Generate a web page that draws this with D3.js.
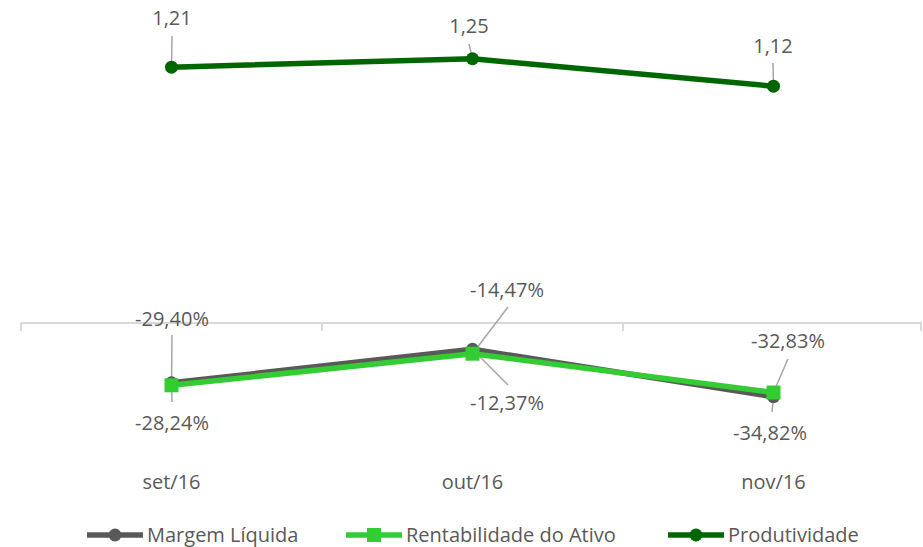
<!DOCTYPE html>
<html>
<head>
<meta charset="utf-8">
<script src="https://cdn.jsdelivr.net/npm/d3@7"></script>
<style>
  body { margin: 0; background: #fff; }
  text { font-family: 'Segoe UI', 'Open Sans', sans-serif; fill: #595959; }
</style>
</head>
<body>
<svg id="chart" width="923" height="547"></svg>
<script>
const categories = ['set/16', 'out/16', 'nov/16'];
const margemLiquida = [-0.2824, -0.1237, -0.3482];
const rentabilidade = [-0.2940, -0.1447, -0.3283];
const produtividade = [1.21, 1.25, 1.12];

const margemLabels = ['-28,24%', '-12,37%', '-34,82%'];
const rentLabels = ['-29,40%', '-14,47%', '-32,83%'];
const prodLabels = ['1,21', '1,25', '1,12'];

const svg = d3.select('#chart');

const x = d3.scaleBand().domain(categories).range([21, 924]);
const y = d3.scaleLinear().domain([-0.6, 1.4]).range([450, 27]);
const cx = d => x(d) + x.bandwidth() / 2;

// category axis crossing at zero
const y0 = y(0);
svg.append('line')
  .attr('x1', 21).attr('x2', 922)
  .attr('y1', y0).attr('y2', y0)
  .attr('stroke', '#d9d9d9').attr('stroke-width', 2);
const tickX = categories.map(c => x(c)).concat([921]);
tickX.forEach(t => {
  svg.append('line')
    .attr('x1', t).attr('x2', t)
    .attr('y1', y0).attr('y2', y0 + 8)
    .attr('stroke', '#d9d9d9').attr('stroke-width', 2);
});

svg.selectAll('.cat')
  .data(categories)
  .enter()
  .append('text')
  .attr('class', 'cat')
  .attr('x', d => cx(d))
  .attr('y', 489)
  .attr('text-anchor', 'middle')
  .style('font-size', '20px')
  .text(d => d);

const series = [
  { name: 'Margem Líquida', values: margemLiquida, color: '#595959', marker: 'circle' },
  { name: 'Rentabilidade do Ativo', values: rentabilidade, color: '#33cc33', marker: 'square' },
  { name: 'Produtividade', values: produtividade, color: '#006600', marker: 'circle' }
];

// leader lines (drawn under the series)
const leaders = [
  // [category index, value, label x, label y (line end)]
  [0, produtividade[0], 172, 36],
  [1, produtividade[1], 469, 44],
  [2, produtividade[2], 773, 63],
  [0, rentabilidade[0], 172, 335],
  [0, margemLiquida[0], 172, 402],
  [1, rentabilidade[1], 508, 307],
  [1, margemLiquida[1], 508, 385],
  [2, rentabilidade[2], 788, 359],
  [2, margemLiquida[2], 772, 412]
];
leaders.forEach(l => {
  svg.append('line')
    .attr('x1', cx(categories[l[0]]))
    .attr('y1', y(l[1]))
    .attr('x2', l[2])
    .attr('y2', l[3])
    .attr('stroke', '#a6a6a6')
    .attr('stroke-width', 1.5);
});

const line = d3.line()
  .x((d, i) => cx(categories[i]))
  .y(d => y(d));

series.forEach(s => {
  svg.append('path')
    .datum(s.values)
    .attr('d', line)
    .attr('fill', 'none')
    .attr('stroke', s.color)
    .attr('stroke-width', 5.5)
    .attr('stroke-linejoin', 'round');
  s.values.forEach((v, i) => {
    if (s.marker === 'circle') {
      svg.append('circle')
        .attr('cx', cx(categories[i]))
        .attr('cy', y(v))
        .attr('r', 6.5)
        .attr('fill', s.color);
    } else {
      svg.append('rect')
        .attr('x', cx(categories[i]) - 7)
        .attr('y', y(v) - 7)
        .attr('width', 14)
        .attr('height', 14)
        .attr('fill', s.color);
    }
  });
});

// data labels
const labelPos = [
  // [text, x, baseline]
  [prodLabels[0], 172, 25],
  [prodLabels[1], 469, 33],
  [prodLabels[2], 773, 53],
  [rentLabels[0], 172, 326],
  [margemLabels[0], 172, 430],
  [rentLabels[1], 507, 297],
  [margemLabels[1], 507, 410],
  [rentLabels[2], 788, 348],
  [margemLabels[2], 770, 440]
];
labelPos.forEach(p => {
  svg.append('text')
    .attr('x', p[1])
    .attr('y', p[2])
    .attr('text-anchor', 'middle')
    .style('font-size', '20px')
    .text(p[0]);
});

// legend
const legendItems = [
  { s: series[0], x: 87 },
  { s: series[1], x: 346 },
  { s: series[2], x: 668 }
];
const ly = 535;
legendItems.forEach(li => {
  const g = svg.append('g').attr('transform', `translate(${li.x}, ${ly})`);
  g.append('line')
    .attr('x1', 0).attr('x2', 56)
    .attr('y1', 0).attr('y2', 0)
    .attr('stroke', li.s.color).attr('stroke-width', 5.5);
  if (li.s.marker === 'circle') {
    g.append('circle').attr('cx', 28).attr('cy', 0).attr('r', 6.5).attr('fill', li.s.color);
  } else {
    g.append('rect').attr('x', 21).attr('y', -7).attr('width', 14).attr('height', 14).attr('fill', li.s.color);
  }
  g.append('text')
    .attr('x', 60)
    .attr('y', 7)
    .style('font-size', '20px')
    .text(li.s.name);
});
</script>
</body>
</html>
